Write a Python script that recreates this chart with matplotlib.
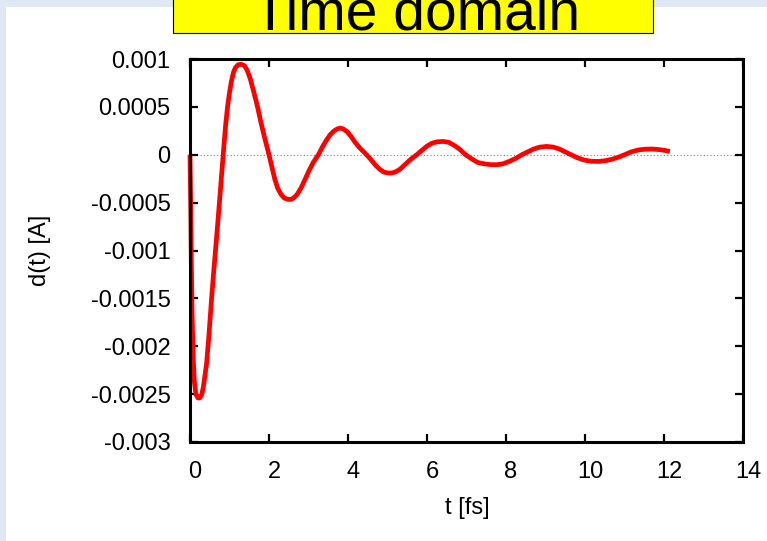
import matplotlib
matplotlib.use("Agg")
import matplotlib.pyplot as plt
import matplotlib.transforms as mtransforms
from matplotlib.patches import Rectangle

plt.rcParams['font.family'] = ['Liberation Sans', 'DejaVu Sans']

# Data (t in fs, d in A)
t_fs = [0.00, 0.01, 0.02, 0.03, 0.05, 0.08, 0.11, 0.15, 0.20, 0.25, 0.30, 0.34, 0.38, 0.42,
        0.48, 0.55, 0.62, 0.69, 0.76, 0.84, 0.90, 0.95, 1.00, 1.05, 1.10, 1.15, 1.22,
        1.30, 1.38, 1.45, 1.52, 1.60, 1.71, 1.80, 1.90, 2.00,
        2.08, 2.15, 2.22, 2.30, 2.38, 2.47, 2.55, 2.63, 2.72, 2.82, 2.92, 3.02, 3.12, 3.25,
        3.35, 3.45, 3.55, 3.65, 3.73, 3.80, 3.88, 3.98, 4.08, 4.18, 4.30, 4.40, 4.47,
        4.58, 4.70, 4.80, 4.90, 5.00, 5.10, 5.20, 5.32, 5.45, 5.58, 5.74,
        5.88, 6.00, 6.12, 6.25, 6.41, 6.55, 6.68, 6.82, 6.98,
        7.12, 7.28, 7.45, 7.60, 7.76, 7.92, 8.08, 8.24, 8.40,
        8.55, 8.70, 8.86, 9.03, 9.20, 9.35, 9.50, 9.65,
        9.80, 9.97, 10.15, 10.34, 10.52, 10.70, 10.85, 11.00,
        11.17, 11.35, 11.52, 11.69, 11.85, 12.00, 12.15]
d_t = [0.0, -0.0003, -0.0006, -0.001, -0.0016, -0.0021, -0.00237, -0.0025, -0.00254, -0.00254,
       -0.0025, -0.00242, -0.0023, -0.00218,
       -0.00188, -0.00148, -0.00112, -0.00078, -0.00042, 0.0, 0.0003, 0.0005, 0.00065, 0.00077,
       0.00086, 0.00091, 0.00094,
       0.000945, 0.00093, 0.00088, 0.0008, 0.00068, 0.0005, 0.00033, 0.00016, 0.0,
       -0.00014, -0.00026, -0.00035, -0.00041, -0.00045, -0.000465, -0.000467, -0.00045,
       -0.00041, -0.00034, -0.00025, -0.00016, -0.00008, 0.0,
       0.00008, 0.00015, 0.00021, 0.00025, 0.00027, 0.000279, 0.00027, 0.00024, 0.00019,
       0.00013, 0.00007, 0.00003, 0.0,
       -0.00005, -0.00011, -0.00015, -0.00018, -0.00019, -0.000191, -0.00018, -0.00015,
       -0.0001, -0.00005, 0.0,
       0.00005, 0.00009, 0.00012, 0.000135, 0.000139, 0.00013, 0.0001, 0.00006, 0.0,
       -0.00004, -0.00008, -0.000095, -0.000103, -0.000104, -0.000095, -0.00007, -0.00004, 0.0,
       0.00003, 0.00006, 0.00008, 0.000087, 0.00008, 0.00006, 0.00003, 0.0,
       -0.00003, -0.000055, -0.000068, -0.00007, -0.000062, -0.000045, -0.000025, 0.0,
       0.00003, 0.00005, 0.000058, 0.00006, 0.000055, 0.000047, 0.000035]

x_ticks = [0, 2, 4, 6, 8, 10, 12, 14]
x_tick_labels = ['0', '2', '4', '6', '8', '10', '12', '14']
y_ticks = [0.001, 0.0005, 0.0, -0.0005, -0.001, -0.0015, -0.002, -0.0025, -0.003]
y_tick_labels = ['0.001', '0.0005', '0', '-0.0005', '-0.001', '-0.0015', '-0.002', '-0.0025', '-0.003']

title_text = 'Time domain'
x_label = 't [fs]'
y_label = 'd(t) [A]'

W, H = 767, 541
fig = plt.figure(figsize=(W / 100, H / 100), dpi=100)
fig.patch.set_facecolor('#e0e8f4')

# white panel
fig.patches.append(Rectangle((6 / W, 0), 1 - 6 / W, (H - 7) / H,
                             transform=fig.transFigure, facecolor='white',
                             edgecolor='none', zorder=-10))

# title box
fig.patches.append(Rectangle((173 / W, (H - 33) / H), (653 - 173) / W, 60 / H,
                             transform=fig.transFigure, facecolor='#ffff00',
                             edgecolor='black', linewidth=0.8, zorder=-5))
fig.text(417 / W, (H - 29) / H, title_text, ha='center', va='baseline',
         fontsize=41, color='black', zorder=-4)

left, right, top, bottom = 190, 743, 59, 442
ax = fig.add_axes([left / W, (H - bottom) / H, (right - left) / W, (bottom - top) / H])
ax.set_facecolor('none')

ax.axhline(0, color='#808080', lw=0.8, ls=(0, (1, 2)), zorder=1)
ax.plot(t_fs, d_t, color='#ff0000', lw=3.4, solid_joinstyle='round',
        solid_capstyle='butt', clip_on=False, zorder=2)

ax.set_xlim(0, 14)
ax.set_ylim(-0.003, 0.001)
ax.set_xticks(x_ticks)
ax.set_xticklabels(x_tick_labels)
ax.set_yticks(y_ticks)
ax.set_yticklabels(y_tick_labels)

ax.tick_params(direction='in', length=6, width=1.6, top=True, right=True,
               labelsize=17, color='black')
ax.tick_params(axis='y', pad=14)
ax.tick_params(axis='x', pad=13.5)
for s in ax.spines.values():
    s.set_linewidth(2.2)
    s.set_zorder(3)

offset = mtransforms.ScaledTranslation(5 / 100, 0, fig.dpi_scale_trans)
for lab in ax.get_xticklabels():
    lab.set_transform(lab.get_transform() + offset)

ax.set_xlabel(x_label, fontsize=17)
ax.set_ylabel(y_label, fontsize=17)
ax.xaxis.set_label_coords((467 - left) / (right - left), -(508 - bottom) / (bottom - top))
ax.yaxis.set_label_coords(-(190 - 40) / (right - left), 0.5)
ax.xaxis.label.set_va('center')
ax.yaxis.label.set_va('center')

fig.savefig('out.png', dpi=100, facecolor=fig.get_facecolor())
